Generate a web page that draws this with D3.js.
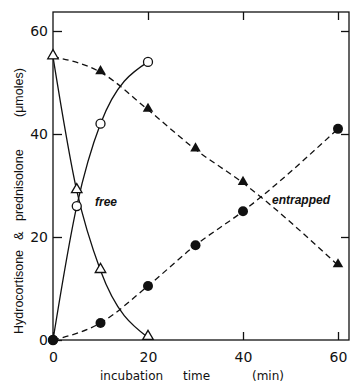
<!DOCTYPE html>
<html>
<head>
<meta charset="utf-8">
<script src="https://cdn.jsdelivr.net/npm/d3@7"></script>
<style>
  body { margin: 0; background: #fff; }
  svg { display: block; font-family: "Liberation Sans", Arial, sans-serif; }
</style>
</head>
<body>
<svg width="350" height="383"></svg>
<script>
// time points (min)
var timeFree = [0, 5, 10, 20];
var timeEnt = [0, 10, 20, 30, 40, 60];
// free: open triangles falling, open circles rising
var freeTri = [55, 29, 13.5, 0.5];
var freeCirc = [0, 26, 42, 54];
// entrapped: filled triangles falling, filled circles rising
var entTri = [55, 52, 44.7, 37, 30.5, 14.5];
var entCirc = [0, 3.3, 10.5, 18.4, 25, 41];
var xTicks = [0, 20, 40, 60];
var yTicks = [0, 20, 40, 60];

var svg = d3.select('svg');
var x = d3.scaleLinear().domain([0, 60]).range([53, 338]);
var y = d3.scaleLinear().domain([0, 60]).range([340, 31]);
var x0 = 53, x1 = 349, y0 = 340, y1 = 12;

// frame
svg.append('rect').attr('x', x0).attr('y', y1).attr('width', x1 - x0).attr('height', y0 - y1)
  .attr('fill', 'none').attr('stroke', '#111').attr('stroke-width', 1.3);

// axes with inward ticks
var gl = svg.append('g').attr('transform', 'translate(' + x0 + ',0)')
  .call(d3.axisLeft(y).tickValues(yTicks).tickSize(-9).tickPadding(5));
var gb = svg.append('g').attr('transform', 'translate(0,' + y0 + ')')
  .call(d3.axisBottom(x).tickValues(xTicks).tickSize(-8).tickPadding(12));
var gt = svg.append('g').attr('transform', 'translate(0,' + y1 + ')')
  .call(d3.axisTop(x).tickValues(xTicks.slice(1)).tickSize(-8).tickFormat(''));
var gr = svg.append('g').attr('transform', 'translate(' + x1 + ',0)')
  .call(d3.axisRight(y).tickValues(yTicks.slice(1)).tickSize(-8).tickFormat(''));
[gl, gb, gt, gr].forEach(function(g) {
  g.select('.domain').remove();
  g.selectAll('line').attr('stroke', '#111').attr('stroke-width', 1.3);
  g.selectAll('text').attr('fill', '#111').style('font-size', '14px').style('font-family', '"DejaVu Sans", sans-serif');
});
gl.selectAll('text').attr('x', -5);

function pts(t, v) { return t.map(function(d, i) { return [d, v[i]]; }); }
var line = d3.line().x(function(d) { return x(d[0]); }).y(function(d) { return y(d[1]); })
  .curve(d3.curveMonotoneX);

// curves
svg.append('path').attr('d', line(pts(timeEnt, entTri))).attr('fill', 'none')
  .attr('stroke', '#111').attr('stroke-width', 1.3).attr('stroke-dasharray', '6,4');
svg.append('path').attr('d', line(pts(timeEnt, entCirc))).attr('fill', 'none')
  .attr('stroke', '#111').attr('stroke-width', 1.3).attr('stroke-dasharray', '6,4');
svg.append('path').attr('d', line(pts(timeFree, freeTri))).attr('fill', 'none')
  .attr('stroke', '#111').attr('stroke-width', 1.3);
svg.append('path').attr('d', line(pts(timeFree, freeCirc))).attr('fill', 'none')
  .attr('stroke', '#111').attr('stroke-width', 1.3);

var tri = d3.symbol().type(d3.symbolTriangle).size(48);

// markers
svg.selectAll('.ft').data(pts(timeEnt, entTri)).enter().append('path')
  .attr('d', tri).attr('transform', function(d) { return 'translate(' + x(d[0]) + ',' + (y(d[1]) - 1) + ')'; })
  .attr('fill', '#111');
svg.selectAll('.ot').data(pts(timeFree, freeTri)).enter().append('path')
  .attr('d', tri).attr('transform', function(d) { return 'translate(' + x(d[0]) + ',' + (y(d[1]) - 1) + ')'; })
  .attr('fill', '#fff').attr('stroke', '#111').attr('stroke-width', 1.3);
svg.selectAll('.oc').data(pts(timeFree, freeCirc)).enter().append('circle')
  .attr('cx', function(d) { return x(d[0]); }).attr('cy', function(d) { return y(d[1]); })
  .attr('r', 4.5).attr('fill', '#fff').attr('stroke', '#111').attr('stroke-width', 1.3);
svg.selectAll('.fc').data(pts(timeEnt, entCirc)).enter().append('circle')
  .attr('cx', function(d) { return x(d[0]); }).attr('cy', function(d) { return y(d[1]); })
  .attr('r', 5).attr('fill', '#111');

// annotations
svg.append('text').attr('x', 95).attr('y', 206).text('free')
  .style('font-size', '12px').style('font-style', 'italic').style('font-weight', '600').attr('fill', '#111');
svg.append('text').attr('x', 272).attr('y', 204).text('entrapped')
  .style('font-size', '12px').style('font-style', 'italic').style('font-weight', '600').attr('fill', '#111');

// axis titles
var xl = svg.append('text').attr('y', 380).style('font-size', '12px')
  .style('font-family', '"DejaVu Sans", sans-serif').attr('fill', '#111');
xl.append('tspan').attr('x', 100).text('incubation');
xl.append('tspan').attr('x', 183).text('time');
xl.append('tspan').attr('x', 252).text('(min)');

var yl = svg.append('text').attr('transform', 'translate(23,0) rotate(-90)')
  .style('font-size', '12.5px').attr('fill', '#111');
yl.append('tspan').attr('x', -334).text('Hydrocortisone');
yl.append('tspan').attr('x', -240).text('&');
yl.append('tspan').attr('x', -221).text('prednisolone');
yl.append('tspan').attr('x', -117).text('(\u03bcmoles)');
</script>
</body>
</html>
